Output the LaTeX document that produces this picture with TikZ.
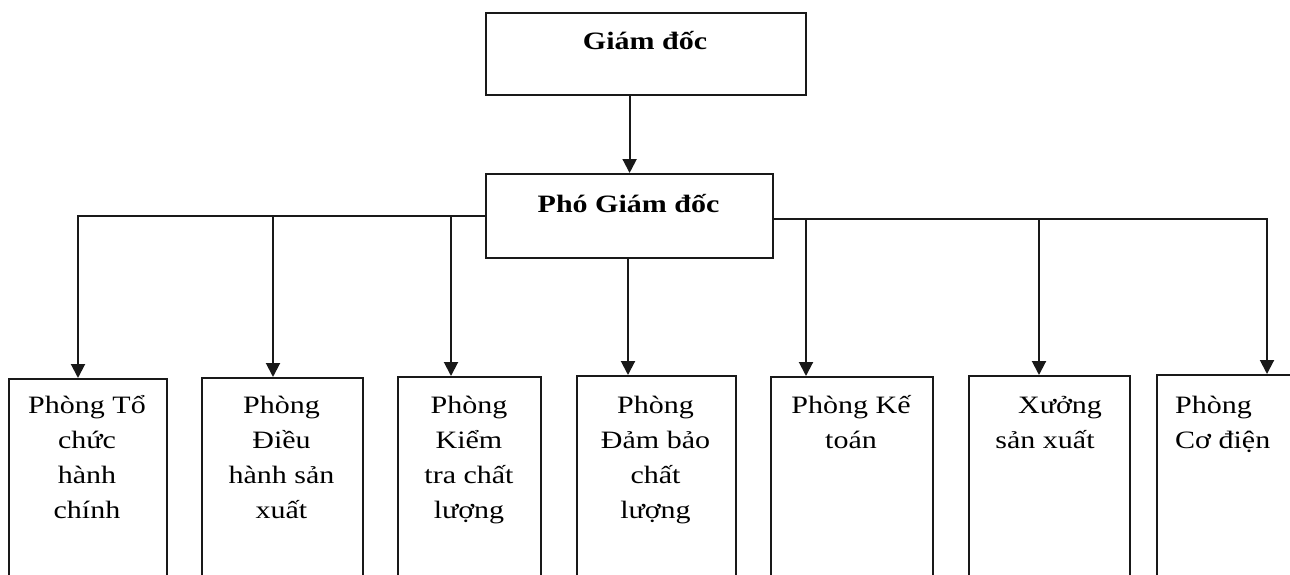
\documentclass[tikz,border=0pt]{standalone}
\usepackage{fontspec}
\setmainfont{Liberation Serif}[FakeStretch=1.2]
\usetikzlibrary{arrows.meta}
\tikzset{
  frame/.style={draw=black!90, line width=2.2pt, inner sep=0pt, anchor=north west},
  arr/.style={draw=black!90, line width=2pt, -{Triangle[width=14pt,length=14pt]}},
  lbl/.style={inner sep=0pt, align=center, anchor=base, font=\fontsize{25}{35}\selectfont},
  lbll/.style={lbl, align=left, anchor=base west},
  ttl/.style={inner sep=0pt, anchor=base, font=\fontsize{25}{30}\selectfont\bfseries},
}
\begin{document}
\begin{tikzpicture}[x=1pt,y=-1pt]
\useasboundingbox (0,0) rectangle (1290,575);
\clip (0,0) rectangle (1290,575);
% top boxes
\node[frame, minimum width=320, minimum height=82] (g) at (485,12) {};
\node[frame, minimum width=287, minimum height=84] (p) at (485,173) {};
\node[ttl] (gt) at (645,50) {Giám đốc};
\node[ttl] (pt) at (628.5,212) {Phó Giám đốc};
% department boxes
\node[frame, minimum width=158, minimum height=230] (b1) at (8,378) {};
\node[frame, minimum width=161, minimum height=230] (b2) at (201,377) {};
\node[frame, minimum width=143, minimum height=230] (b3) at (397,376) {};
\node[frame, minimum width=159, minimum height=230] (b4) at (576,375) {};
\node[frame, minimum width=162, minimum height=230] (b5) at (770,376) {};
\node[frame, minimum width=161, minimum height=230] (b6) at (968,375) {};
\node[frame, minimum width=150, minimum height=230] (b7) at (1156,374) {};
% labels (anchor = baseline of the last line)
\node[lbl] (t1) at (87,518) {Phòng Tổ\\chức\\hành\\chính};
\node[lbl] (t2) at (281.5,518) {Phòng\\Điều\\hành sản\\xuất};
\node[lbl] (t3) at (469,518) {Phòng\\Kiểm\\tra chất\\lượng};
\node[lbl] (t4) at (655.5,518) {Phòng\\Đảm bảo\\chất\\lượng};
\node[lbl] (t5) at (851,448) {Phòng Kế\\toán};
\node[lbl] (t6) at (1045,448) {\hspace*{30pt}Xưởng\\sản xuất};
\node[lbll] (t7) at (1175,448) {Phòng\\Cơ điện};
% arrow entry points
\coordinate (e1) at ([xshift=70]b1.north west);
\coordinate (e2) at ([xshift=72]b2.north west);
\coordinate (e3) at ([xshift=54]b3.north west);
\coordinate (e4) at ([xshift=52]b4.north west);
\coordinate (e5) at ([xshift=36]b5.north west);
\coordinate (e6) at ([xshift=71]b6.north west);
\coordinate (e7) at ([xshift=111]b7.north west);
\coordinate (rb) at ([yshift=-3]p.east);
% connectors
\draw[arr] (p.north |- g.south) -- (p.north);
\draw[arr] (p.west) -| (e1);
\draw[arr] (e2 |- p.west) -- (e2);
\draw[arr] (e3 |- p.west) -- (e3);
\draw[arr] (p.south -| e4) -- (e4);
\draw[arr] (rb) -| (e7);
\draw[arr] (e5 |- rb) -- (e5);
\draw[arr] (e6 |- rb) -- (e6);
\end{tikzpicture}
\end{document}
